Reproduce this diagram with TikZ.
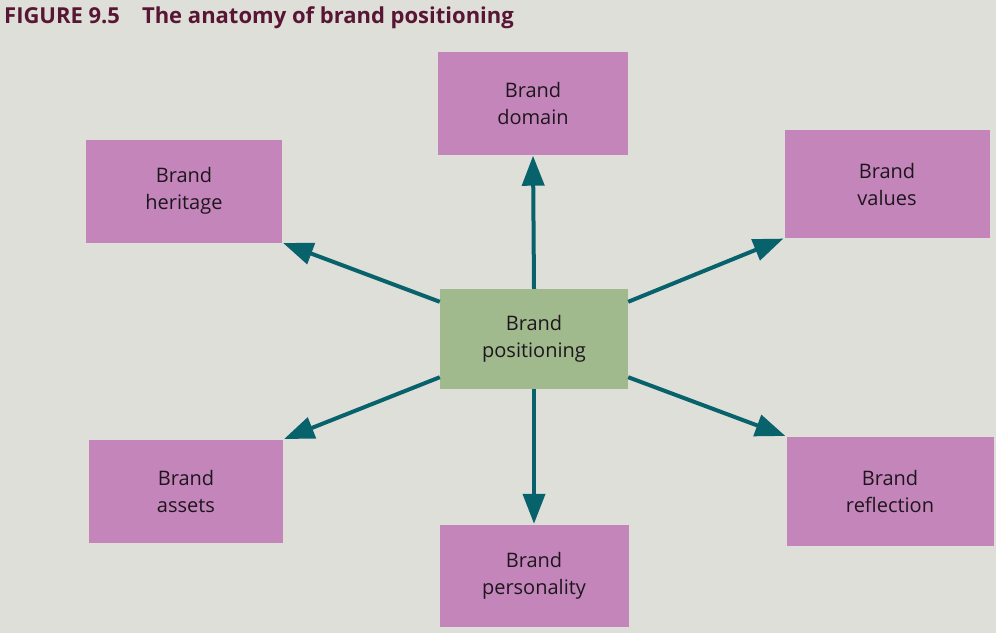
\documentclass[tikz,border=0pt]{standalone}
\usepackage{fontspec}
\setmainfont{Open Sans}
\usetikzlibrary{arrows.meta}
\definecolor{bgc}{RGB}{222,223,217}
\definecolor{pinkc}{RGB}{196,134,186}
\definecolor{greenc}{RGB}{160,186,142}
\definecolor{tealc}{RGB}{8,98,108}
\definecolor{titlec}{RGB}{88,22,52}
\definecolor{txtc}{RGB}{30,22,30}
\tikzset{
  pbox/.style={fill=pinkc, draw=none, minimum width=#1, text=txtc, align=center,
    font=\fontsize{20}{27}\selectfont, inner sep=0pt},
  pbox/.default=195pt,
  gbox/.style={fill=greenc, draw=none, minimum width=188pt, minimum height=100pt,
    text=txtc, align=center, font=\fontsize{20}{27}\selectfont, inner sep=0pt},
  conn/.style={draw=tealc, line width=4pt, -{Triangle[length=30pt,width=22pt]}, shorten >=1pt}
}
\begin{document}
\begin{tikzpicture}[x=1pt,y=-1pt]
\useasboundingbox (0,0) rectangle (996,633);
\fill[bgc] (0,0) rectangle (996,633);
\node[anchor=base west, text=titlec, font=\fontsize{22}{24}\selectfont\bfseries, inner sep=0pt] (title) at (4,23) {FIGURE 9.5\hspace{22pt}The anatomy of brand positioning};
\node[pbox=190pt, minimum height=103pt] (dom) at (533,103) {Brand\\domain};
\node[pbox=196pt, minimum height=103pt] (her) at (184,191) {Brand\\heritage};
\node[pbox=205pt, minimum height=108pt] (val) at (887,184) {Brand\\values};
\node[gbox] (pos) at (534,339) {Brand\\positioning};
\node[pbox=194pt, minimum height=103pt] (ass) at (186,491) {Brand\\assets};
\node[pbox=207pt, minimum height=109pt] (ref) at (890,491) {Brand\\reflection};
\node[pbox=189pt, minimum height=102pt] (per) at (534,576) {Brand\\personality};
\draw[conn] (pos.north) -- (dom.south);
\draw[conn] (pos.south) -- (per.north);
\draw[conn] ([yshift=-13pt]pos.north west) -- (her.south east);
\draw[conn] ([yshift=-13pt]pos.north east) -- (val.south west);
\draw[conn] ([yshift=12pt]pos.south west) -- (ass.north east);
\draw[conn] ([yshift=12pt]pos.south east) -- (ref.north west);
\end{tikzpicture}
\end{document}
